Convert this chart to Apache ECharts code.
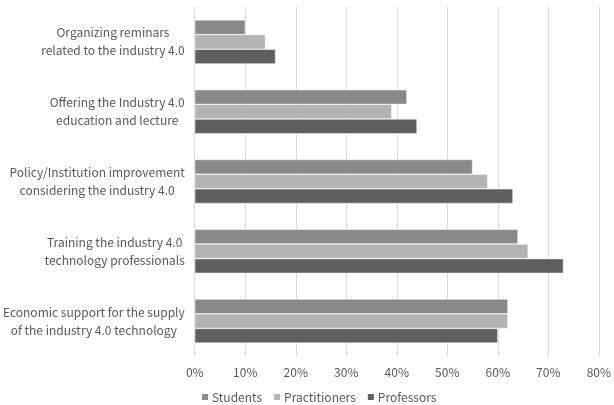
<!DOCTYPE html>
<html>
<head>
<meta charset="utf-8">
<script src="https://cdn.jsdelivr.net/npm/echarts@6/dist/echarts.min.js"></script>
<style>
  html, body { margin: 0; padding: 0; background: #fff; }
  #chart { width: 614px; height: 405px; }
</style>
</head>
<body>
<div id="chart"></div>
<script>
const categories = [
  'Organizing reminars\nrelated to the industry 4.0',
  'Offering the Industry 4.0\neducation and lecture',
  'Policy/Institution improvement\nconsidering the industry 4.0',
  'Training the industry 4.0\ntechnology professionals',
  'Economic support for the supply\nof the industry 4.0 technology'
]
const students = [10, 42, 55, 64, 62]
const practitioners = [14, 39, 58, 66, 62]
const professors = [16, 44, 63, 73, 60]

const font = '"Noto Sans CJK KR", "Noto Sans", sans-serif'

const chart = echarts.init(document.getElementById('chart'))
const barSeries = (name, data, color) => ({
  name: name,
  type: 'bar',
  data: data,
  barGap: '0%',
  barCategoryGap: '37%',
  itemStyle: { color: color, borderColor: '#fff', borderWidth: 0.5 }
})

chart.setOption({
  animation: false,
  backgroundColor: '#fff',
  grid: { left: 194, right: 12, top: 7, bottom: 49 },
  xAxis: {
    type: 'value',
    min: 0,
    max: 80,
    interval: 10,
    axisLine: { show: false },
    axisTick: { show: false },
    splitLine: { lineStyle: { color: '#d9d9d9' } },
    axisLabel: {
      formatter: '{value}%',
      color: '#595959',
      fontSize: 12,
      fontFamily: font,
      margin: 10
    }
  },
  yAxis: {
    type: 'category',
    inverse: true,
    data: categories,
    axisLine: { show: false },
    axisTick: { show: false },
    axisLabel: {
      margin: 10,
      align: 'right',
      // 여러 줄을 가운데 정렬 (엑셀 스타일)
      formatter: (v) => v.split('\n').map(s => '{c|' + s + '}').join('\n'),
      rich: {
        c: {
          align: 'center',
          color: '#595959',
          fontSize: 12,
          fontFamily: font,
          lineHeight: 18
        }
      }
    }
  },
  legend: {
    bottom: 2,
    padding: 0,
    left: 200,
    itemWidth: 8,
    itemHeight: 8,
    itemGap: 10,
    icon: 'rect',
    textStyle: { color: '#595959', fontSize: 12, fontFamily: font, padding: [0, 0, 0, -2] },
    data: ['Students', 'Practitioners', 'Professors']
  },
  series: [
    barSeries('Students', students, '#898989'),
    barSeries('Practitioners', practitioners, '#b3b3b3'),
    barSeries('Professors', professors, '#5f5f5f')
  ]
})
</script>
</body>
</html>
